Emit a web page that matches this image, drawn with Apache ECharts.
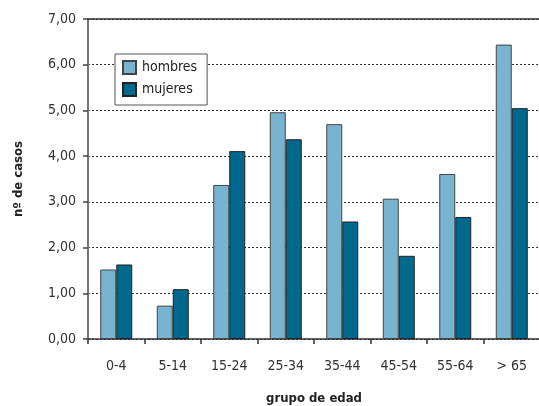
<!DOCTYPE html>
<html>
<head>
<meta charset="utf-8">
<script src="https://cdn.jsdelivr.net/npm/echarts@6/dist/echarts.min.js"></script>
<style>
html,body{margin:0;padding:0;background:#fff;}
#c{width:539px;height:406px;}
</style>
</head>
<body>
<div id="c"></div>
<script>
const categories = ['0-4', '5-14', '15-24', '25-34', '35-44', '45-54', '55-64', '> 65'];
const hombres = [1.52, 0.73, 3.37, 4.96, 4.70, 3.07, 3.61, 6.44];
const mujeres = [1.63, 1.09, 4.11, 4.37, 2.57, 1.82, 2.67, 5.05];
const yTicks = [0, 1, 2, 3, 4, 5, 6, 7];

const FONT = '"DejaVu Sans Condensed", "Liberation Sans Narrow", sans-serif';
const chart = echarts.init(document.getElementById('c'), null, {renderer: 'canvas'});
chart.setOption({
  animation: false,
  backgroundColor: '#fff',
  textStyle: {fontFamily: FONT},
  grid: {left: 88, width: 452, top: 19, height: 320, containLabel: false, outerBoundsMode: 'none'},
  legend: {
    orient: 'vertical',
    left: 115, top: 54,
    backgroundColor: '#fff',
    borderColor: '#555', borderWidth: 1,
    padding: [6, 10, 8, 7],
    itemGap: 7,
    itemWidth: 13, itemHeight: 13,
    icon: 'rect',
    textStyle: {fontFamily: FONT, fontSize: 14, color: '#222', padding: [0, 0, 0, 1]},
    data: ['hombres', 'mujeres']
  },
  xAxis: [{
    type: 'category',
    data: categories,
    name: 'grupo de edad',
    nameLocation: 'middle',
    nameGap: 53,
    nameMoveOverlap: false,
    nameTextStyle: {fontFamily: FONT, fontSize: 13, fontWeight: 'bold', color: '#222'},
    axisLine: {lineStyle: {color: '#333', width: 1.5}},
    axisTick: {show: true, alignWithLabel: false, length: 5, lineStyle: {color: '#333', width: 1.5}},
    axisLabel: {fontFamily: FONT, fontSize: 14, color: '#333', margin: 20},
    splitLine: {show: false}
  }, {
    type: 'category',
    data: categories,
    position: 'top',
    axisLine: {show: true, lineStyle: {color: '#333', width: 1.5}},
    axisTick: {show: false},
    axisLabel: {show: false},
    splitLine: {show: false}
  }],
  yAxis: {
    type: 'value',
    min: 0, max: 7, interval: 1,
    name: 'nº de casos',
    nameLocation: 'middle',
    nameGap: 63,
    nameMoveOverlap: false,
    nameRotate: 90,
    nameTextStyle: {fontFamily: FONT, fontSize: 13, fontWeight: 'bold', color: '#222'},
    axisLine: {show: true, lineStyle: {color: '#777', width: 2}},
    axisTick: {show: true, length: 5, lineStyle: {color: '#444', width: 1.5}},
    axisLabel: {
      fontFamily: FONT, fontSize: 14, color: '#333', margin: 12,
      formatter: v => yTicks.includes(v) ? v.toFixed(2).replace('.', ',') : ''
    },
    splitLine: {show: true, lineStyle: {color: '#333', width: 1, type: [2, 2]}}
  },
  series: [{
    name: 'hombres', type: 'bar', data: hombres,
    barWidth: 16, barGap: '0%',
    itemStyle: {color: '#78B3CF', borderColor: '#444', borderWidth: 1}
  }, {
    name: 'mujeres', type: 'bar', data: mujeres,
    barWidth: 16, barGap: '0%',
    itemStyle: {color: '#00688C', borderColor: '#222', borderWidth: 1}
  }]
});
</script>
</body>
</html>
